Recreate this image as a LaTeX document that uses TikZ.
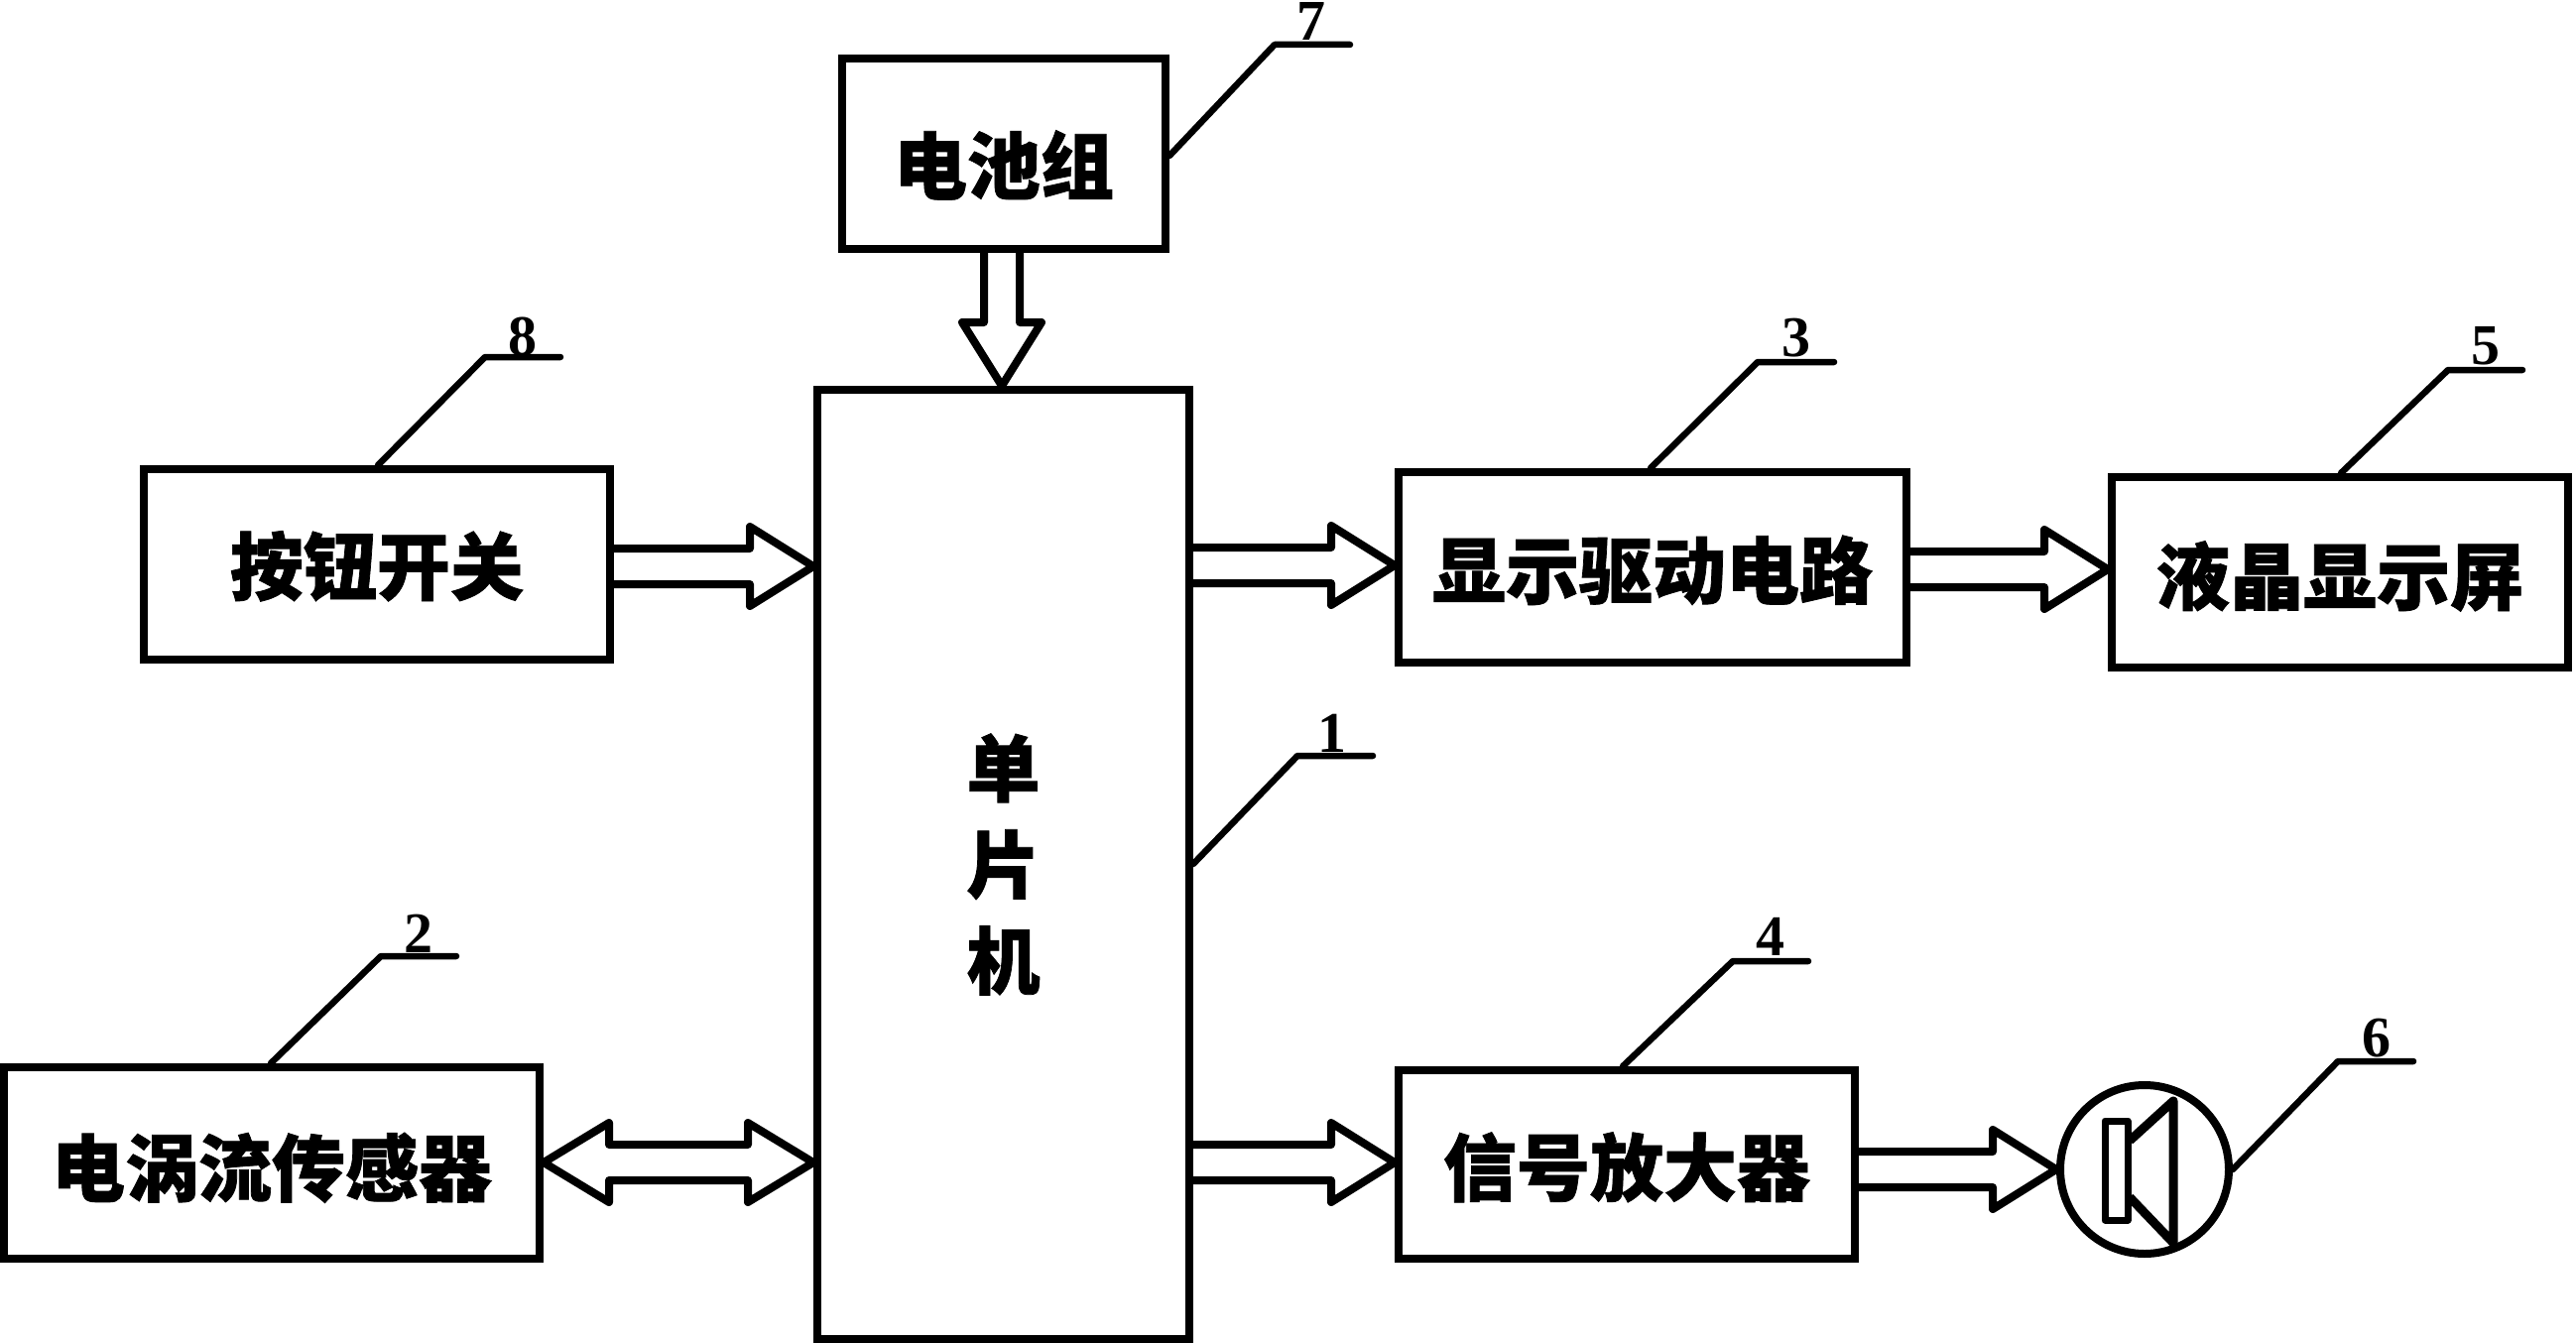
\documentclass[tikz,border=0pt]{standalone}
\usepackage{fontspec}
\usetikzlibrary{calc}
\newfontfamily\cjk{Noto Sans CJK SC}[BoldFeatures={FakeBold=1}]
\newfontfamily\numfont{Liberation Serif}
\newcommand\lowered[2]{\raisebox{-\dimexpr 28pt+#1\relax}[0pt][0pt]{#2}}
\tikzset{
  box/.style={draw,line width=8pt,inner sep=0pt,font=\cjk\bfseries\fontsize{74}{97}\selectfont,align=center},
  bararrow/.style={draw,line width=8pt,line join=round,to path={
    ($(\tikztostart)!18pt!90:(\tikztotarget)$)
    -- ($(\tikztotarget)!64pt!(\tikztostart)!18pt!-90:(\tikztostart)$)
    -- ($(\tikztotarget)!64pt!(\tikztostart)!40pt!-90:(\tikztostart)$)
    -- (\tikztotarget)
    -- ($(\tikztotarget)!64pt!(\tikztostart)!40pt!90:(\tikztostart)$)
    -- ($(\tikztotarget)!64pt!(\tikztostart)!18pt!90:(\tikztostart)$)
    -- ($(\tikztostart)!18pt!-90:(\tikztotarget)$)}},
  bothways/.style={draw,line width=8pt,line join=round,to path={
    (\tikztostart)
    -- ($(\tikztostart)!66pt!(\tikztotarget)!40pt!90:(\tikztotarget)$)
    -- ($(\tikztostart)!66pt!(\tikztotarget)!18pt!90:(\tikztotarget)$)
    -- ($(\tikztotarget)!66pt!(\tikztostart)!18pt!-90:(\tikztostart)$)
    -- ($(\tikztotarget)!66pt!(\tikztostart)!40pt!-90:(\tikztostart)$)
    -- (\tikztotarget)
    -- ($(\tikztotarget)!66pt!(\tikztostart)!40pt!90:(\tikztostart)$)
    -- ($(\tikztotarget)!66pt!(\tikztostart)!18pt!90:(\tikztostart)$)
    -- ($(\tikztostart)!66pt!(\tikztotarget)!18pt!-90:(\tikztotarget)$)
    -- ($(\tikztostart)!66pt!(\tikztotarget)!40pt!-90:(\tikztotarget)$)
    -- cycle}},
  leader/.style={draw,line width=6.5pt,line join=round,line cap=round},
  tag/.style={inner sep=0pt,font=\numfont\bfseries\fontsize{58}{58}\selectfont},
  spkpart/.style={draw,line width=7pt,line join=round}
}
\begin{document}
\begin{tikzpicture}[x=1pt,y=-1pt]
\useasboundingbox (0,0) rectangle (2597,1354);
% blocks
\node[box,minimum width=326pt,minimum height=192pt] (bat) at (1012,155) {\lowered{12pt}{电池组}};
\node[box,minimum width=375pt,minimum height=957pt] (mcu) at (1011.5,871.5) {单\\片\\机};
\node[box,minimum width=470pt,minimum height=192pt] (btn) at (380,569) {\lowered{2pt}{按钮开关}};
\node[box,minimum width=540pt,minimum height=193pt] (sen) at (274,1172.5) {\lowered{5pt}{电涡流传感器}};
\node[box,minimum width=512pt,minimum height=192pt] (drv) at (1666,572) {\lowered{3pt}{显示驱动电路}};
\node[box,minimum width=460pt,minimum height=192pt] (lcd) at (2359,577) {\lowered{4pt}{液晶显示屏}};
\node[box,minimum width=460pt,minimum height=190pt] (amp) at (1640,1174) {\lowered{3pt}{信号放大器}};
\node[draw,circle,line width=8pt,minimum size=170pt,inner sep=0pt] (spk) at (2162,1179) {};
% speaker symbol
\draw[spkpart] (2122,1130) rectangle (2145,1230);
\draw[spkpart,line width=9pt] (2147,1150) -- (2191,1110) -- (2191,1253) -- (2147,1207);
% block arrows
\draw[bararrow] (1010,0 |- bat.south) to (1010,0 |- mcu.north);
\draw[bararrow] (btn.east |- 0,571) to (mcu.west |- 0,571);
\draw[bararrow] (mcu.east |- 0,570) to (drv.west |- 0,570);
\draw[bararrow] (drv.east |- 0,574) to (lcd.west |- 0,574);
\draw[bothways] (sen.east |- 0,1172) to (mcu.west |- 0,1172);
\draw[bararrow] (mcu.east |- 0,1172) to (amp.west |- 0,1172);
\draw[bararrow] (amp.east |- spk.west) to (spk.west);
% reference numbers and leaders
\coordinate (k7) at (1285,45); \coordinate (e7) at (1361,45);
\coordinate (k8) at (489,360); \coordinate (e8) at (565,360);
\coordinate (k3) at (1772,365); \coordinate (e3) at (1849,365);
\coordinate (k5) at (2468,373); \coordinate (e5) at (2543,373);
\coordinate (k1) at (1308,762); \coordinate (e1) at (1384,762);
\coordinate (k2) at (384,964); \coordinate (e2) at (460,964);
\coordinate (k4) at (1747,969); \coordinate (e4) at (1823,969);
\coordinate (k6) at (2357,1070); \coordinate (e6) at (2433,1070);
\draw[leader] (bat.east |- 0,157) -- (k7) -- (e7);
\draw[leader] (381,0 |- btn.north) -- (k8) -- (e8);
\draw[leader] (1664,0 |- drv.north) -- (k3) -- (e3);
\draw[leader] (2360,0 |- lcd.north) -- (k5) -- (e5);
\draw[leader] (mcu.east |- 0,871) -- (k1) -- (e1);
\draw[leader] (273,0 |- sen.north) -- (k2) -- (e2);
\draw[leader] (1636,0 |- amp.north) -- (k4) -- (e4);
\draw[leader] (spk.east) -- (k6) -- (e6);
\node[tag] (n7) at (1322,22) {7};
\node[tag] (n8) at (527,339) {8};
\node[tag] (n3) at (1811,341) {3};
\node[tag] (n5) at (2506,349) {5};
\node[tag] (n1) at (1343,739) {1};
\node[tag] (n2) at (422,941) {2};
\node[tag] (n4) at (1785,944) {4};
\node[tag] (n6) at (2396,1047) {6};
\end{tikzpicture}
\end{document}
